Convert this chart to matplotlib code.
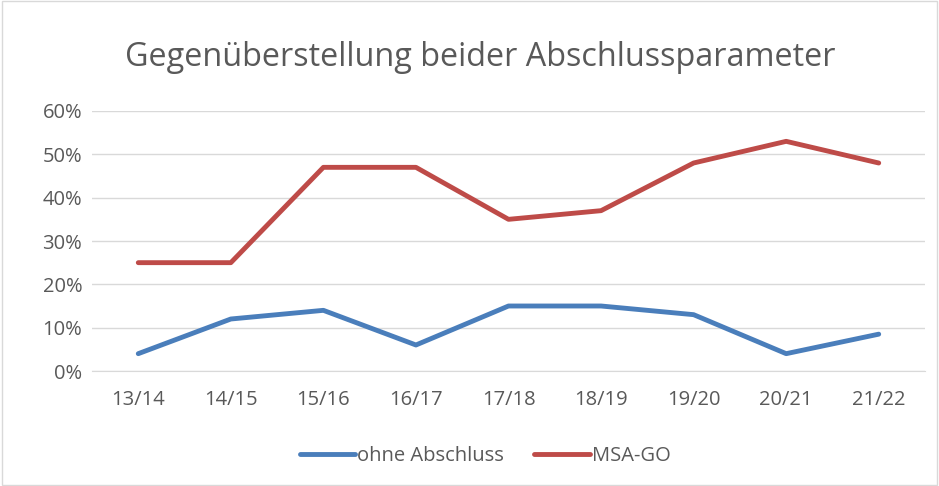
import matplotlib.pyplot as plt
from matplotlib.ticker import PercentFormatter
from matplotlib.patches import Rectangle

# Schuljahre und Anteile
jahre = ['13/14', '14/15', '15/16', '16/17', '17/18', '18/19', '19/20', '20/21', '21/22']
ohne_abschluss = [4, 12, 14, 6, 15, 15, 13, 4, 8.5]
msa_go = [25, 25, 47, 47, 35, 37, 48, 53, 48]

plt.rcParams['font.family'] = ['Open Sans', 'DejaVu Sans']

fig = plt.figure(figsize=(9.39, 4.86), dpi=100)
ax = fig.add_axes([92 / 939, 1 - 371 / 486, (925 - 92) / 939, (371 - 111) / 486])

x = range(len(jahre))
ax.plot(x, ohne_abschluss, color='#4a7ebb', linewidth=3.5, label='ohne Abschluss',
        solid_capstyle='round', solid_joinstyle='round')
ax.plot(x, msa_go, color='#be4b48', linewidth=3.5, label='MSA-GO',
        solid_capstyle='round', solid_joinstyle='round')

ax.set_xlim(-0.5, len(jahre) - 0.5)
ax.set_ylim(0, 60)
ax.set_yticks(range(0, 61, 10))
ax.yaxis.set_major_formatter(PercentFormatter(decimals=0))
ax.set_xticks(list(x))
ax.set_xticklabels(jahre)
ax.grid(axis='y', color='#d9d9d9', linewidth=1)
ax.set_axisbelow(True)
for s in ['top', 'right', 'left']:
    ax.spines[s].set_visible(False)
ax.spines['bottom'].set_color('#d9d9d9')
ax.tick_params(length=0, labelsize=14.5, colors='#595959')
ax.tick_params(axis='x', pad=14)
ax.tick_params(axis='y', pad=7)

fig.text(480 / 939, 1 - 57 / 486, 'Gegenüberstellung beider Abschlussparameter',
         ha='center', va='center', fontsize=23.3, color='#595959')

fig.legend(loc='center', bbox_to_anchor=(485 / 939, 1 - 456 / 486), ncol=2, frameon=False,
           fontsize=14.5, labelcolor='#595959', handlelength=2.75, columnspacing=1.5,
           handletextpad=0.1)

fig.patches.append(Rectangle((0.002, 0.002), 0.996, 0.996, transform=fig.transFigure,
                             fill=False, edgecolor='#d9d9d9', linewidth=1))

fig.savefig('out.png', dpi=100)
